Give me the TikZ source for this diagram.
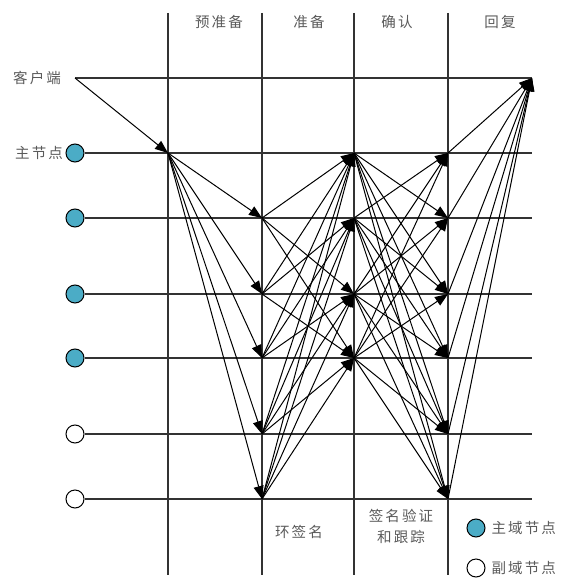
\documentclass[tikz,border=0pt]{standalone}
\usepackage{fontspec}
\newfontfamily\cjk[LetterSpace=14]{Noto Sans CJK SC}
\usetikzlibrary{arrows.meta}
\definecolor{mainBlue}{HTML}{4BACC6}
\definecolor{gridGray}{HTML}{333333}
\definecolor{labelGray}{HTML}{5A5A5A}

\begin{document}
\begin{tikzpicture}[x=1pt, y=-1pt,
    gridLine/.style={line width=1.3pt, draw=gridGray},
    mainNode/.style={circle, draw=black, fill=mainBlue, line width=1pt, minimum size=18pt, inner sep=0pt},
    subNode/.style={mainNode, fill=white},
    labelText/.style={font=\cjk\fontsize{14.5}{21}\selectfont, text=labelGray, inner sep=0pt, align=center},
    msgArrow/.style={-{Triangle[length=13pt, width=10pt]}, line width=1pt}
]
    \useasboundingbox (0,0) rectangle (568,578);

    % phase columns and rows
    \foreach \c/\x in {A/168, B/262, C/354, D/448}{
        \coordinate (top\c) at (\x,13);
        \coordinate (bot\c) at (\x,575);
        \foreach \r/\y in {1/153, 2/218, 3/294, 4/358, 5/434, 6/499}{
            \coordinate (\c\r) at (\x,\y);
        }
    }
    \foreach \r/\y in {1/153, 2/218, 3/294, 4/358, 5/434, 6/499}{
        \coordinate (end\r) at (532,\y);
    }
    \coordinate (client) at (75,78);
    \coordinate (reply) at (532,78);

    \node[mainNode] (n1) at (75,153) {};
    \node[mainNode] (n2) at (75,218) {};
    \node[mainNode] (n3) at (75,294) {};
    \node[mainNode] (n4) at (75,358) {};
    \node[subNode] (n5) at (75,434) {};
    \node[subNode] (n6) at (75,499) {};

    \foreach \c in {A,B,C,D}{
        \draw[gridLine] (top\c) -- (bot\c);
    }
    \draw[gridLine] (client) -- (reply);
    \foreach \r in {1,...,6}{
        \draw[gridLine] (n\r.east) -- (end\r);
    }

    % pre-prepare
    \draw[msgArrow] (client) -- (A1);
    \foreach \t in {2,...,6}{
        \draw[msgArrow] (A1) -- (B\t);
    }

    % prepare (ring signature)
    \foreach \s in {2,...,6}{
        \foreach \t in {1,...,4}{
            \ifnum\s=\t\else \draw[msgArrow] (B\s) -- (C\t); \fi
        }
    }

    % commit
    \foreach \s in {1,...,4}{
        \foreach \t in {1,...,6}{
            \ifnum\s=\t\else \draw[msgArrow] (C\s) -- (D\t); \fi
        }
    }

    % reply
    \foreach \s in {1,...,6}{
        \draw[msgArrow] (D\s) -- (reply);
    }

    \node[labelText, anchor=east] (clientLbl) at (61,78) {客户端};
    \node[labelText, anchor=east] (primaryLbl) at (63,153) {主节点};

    \node[labelText] (hPre) at (219,22) {预准备};
    \node[labelText] (hPrep) at (309,22) {准备};
    \node[labelText] (hCommit) at (397,22) {确认};
    \node[labelText] (hReply) at (500,22) {回复};

    \node[labelText] (ringSig) at (299,532) {环签名};
    \node[labelText] (verify) at (401,526) {签名验证\\和跟踪};

    \node[mainNode] (legMain) at (476,528) {};
    \node[labelText, anchor=west] (legMainLbl) at (legMain.east) [xshift=6pt] {主域节点};
    \node[subNode] (legSub) at (476,568) {};
    \node[labelText, anchor=west] (legSubLbl) at (legSub.east) [xshift=6pt] {副域节点};
\end{tikzpicture}
\end{document}
